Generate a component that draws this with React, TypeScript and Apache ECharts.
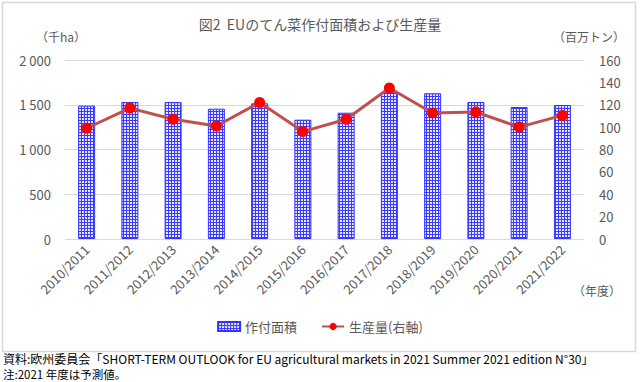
import React, { useEffect, useRef } from "react";
import * as echarts from "echarts";

const categories = [
  "2010/2011", "2011/2012", "2012/2013", "2013/2014", "2014/2015", "2015/2016",
  "2016/2017", "2017/2018", "2018/2019", "2019/2020", "2020/2021", "2021/2022",
];
const areaValues = [1490, 1530, 1530, 1456, 1516, 1333, 1411, 1640, 1628, 1530, 1475, 1497];
const productionValues = [99, 117, 107, 101, 122, 96, 107, 135, 112.6, 113.5, 100, 110.5];
const leftTicks = [0, 500, 1000, 1500, 2000];

const FONT = "'Noto Sans CJK JP', 'Noto Sans', sans-serif";
const GREY = "#595959";

function makePattern(): HTMLCanvasElement {
  const c = document.createElement("canvas");
  c.width = 3;
  c.height = 3;
  const ctx = c.getContext("2d")!;
  ctx.fillStyle = "#e6e6ff";
  ctx.fillRect(0, 0, 3, 3);
  ctx.fillStyle = "#3b3bff";
  ctx.fillRect(0, 0, 3, 1);
  ctx.fillRect(0, 0, 1, 3);
  return c;
}

export default function App() {
  const ref = useRef<HTMLDivElement>(null);
  useEffect(() => {
    if (!ref.current) return;
    const chart = echarts.init(ref.current, undefined, { renderer: "svg" });
    const pattern = { image: makePattern(), repeat: "repeat" };
    chart.setOption({
      animation: false,
      textStyle: { fontFamily: FONT },
      title: {
        text: "図2  EUのてん菜作付面積および生産量",
        left: "center",
        top: 12,
        textStyle: { fontSize: 14, fontWeight: "normal", color: GREY, fontFamily: FONT },
      },
      grid: { left: 65, right: 56, top: 60, bottom: 143 },
      legend: {
        bottom: 44,
        left: "center",
        itemGap: 24,
        itemWidth: 22,
        itemHeight: 9,
        textStyle: { fontSize: 13, color: GREY, fontFamily: FONT },
        data: [
          { name: "作付面積", icon: "rect" },
          { name: "生産量(右軸)" },
        ],
      },
      xAxis: {
        type: "category",
        data: categories,
        axisLine: { show: false },
        axisTick: { show: false },
        axisLabel: { rotate: 45, fontSize: 13, color: GREY, margin: 8, interval: 0, fontFamily: FONT },
      },
      yAxis: [
        {
          type: "value",
          min: 0,
          max: 2000,
          interval: 500,
          axisLine: { show: false },
          axisTick: { show: false },
          splitLine: { lineStyle: { color: "#d9d9d9", width: 1 } },
          axisLabel: {
            fontSize: 13,
            color: GREY,
            margin: 14,
            fontFamily: FONT,
            formatter: (v: number) =>
              leftTicks.includes(v) ? String(v).replace(/\B(?=(\d{3})+(?!\d))/g, " ") : "",
          },
        },
        {
          type: "value",
          min: 0,
          max: 160,
          interval: 20,
          position: "right",
          axisLine: { show: false },
          axisTick: { show: false },
          splitLine: { show: false },
          axisLabel: { fontSize: 13, color: GREY, margin: 15, fontFamily: FONT },
        },
      ],
      series: [
        {
          name: "作付面積",
          type: "bar",
          data: areaValues,
          barWidth: 17,
          itemStyle: { color: pattern, borderColor: "#3333ff", borderWidth: 1 },
        },
        {
          name: "生産量(右軸)",
          type: "line",
          yAxisIndex: 1,
          data: productionValues,
          symbol: "circle",
          symbolSize: 11,
          lineStyle: { color: "#c0504d", width: 3 },
          itemStyle: { color: "#ff0000", borderWidth: 0 },
        },
      ],
      graphic: [
        {
          type: "rect",
          shape: { x: 2.5, y: 2.5, width: 633, height: 349 },
          style: { fill: "none", stroke: "#d9d9d9", lineWidth: 1.5 },
          silent: true,
        },
        {
          type: "text",
          x: 36,
          y: 30,
          style: { text: "（千ha）", fontSize: 12, fill: GREY, fontFamily: FONT },
        },
        {
          type: "text",
          x: 553,
          y: 30,
          style: { text: "（百万トン）", fontSize: 12, fill: GREY, fontFamily: FONT },
        },
        {
          type: "text",
          x: 573,
          y: 284,
          style: { text: "（年度）", fontSize: 12, fill: GREY, fontFamily: FONT },
        },
        {
          type: "text",
          x: 3,
          y: 358,
          style: {
            text: "資料:欧州委員会「SHORT-TERM OUTLOOK for EU agricultural markets in 2021 Summer 2021 edition N°30」",
            fontSize: 12,
            fill: "#000",
            fontFamily: FONT,
            verticalAlign: "middle",
          },
        },
        {
          type: "text",
          x: 3,
          y: 374,
          style: {
            text: "注:2021 年度は予測値。",
            fontSize: 11.5,
            fill: "#000",
            fontFamily: FONT,
            verticalAlign: "middle",
          },
        },
      ],
    });
    return () => chart.dispose();
  }, []);
  return <div ref={ref} style={{ width: 640, height: 382, position: "absolute", left: 0, top: 0 }} />;
}
